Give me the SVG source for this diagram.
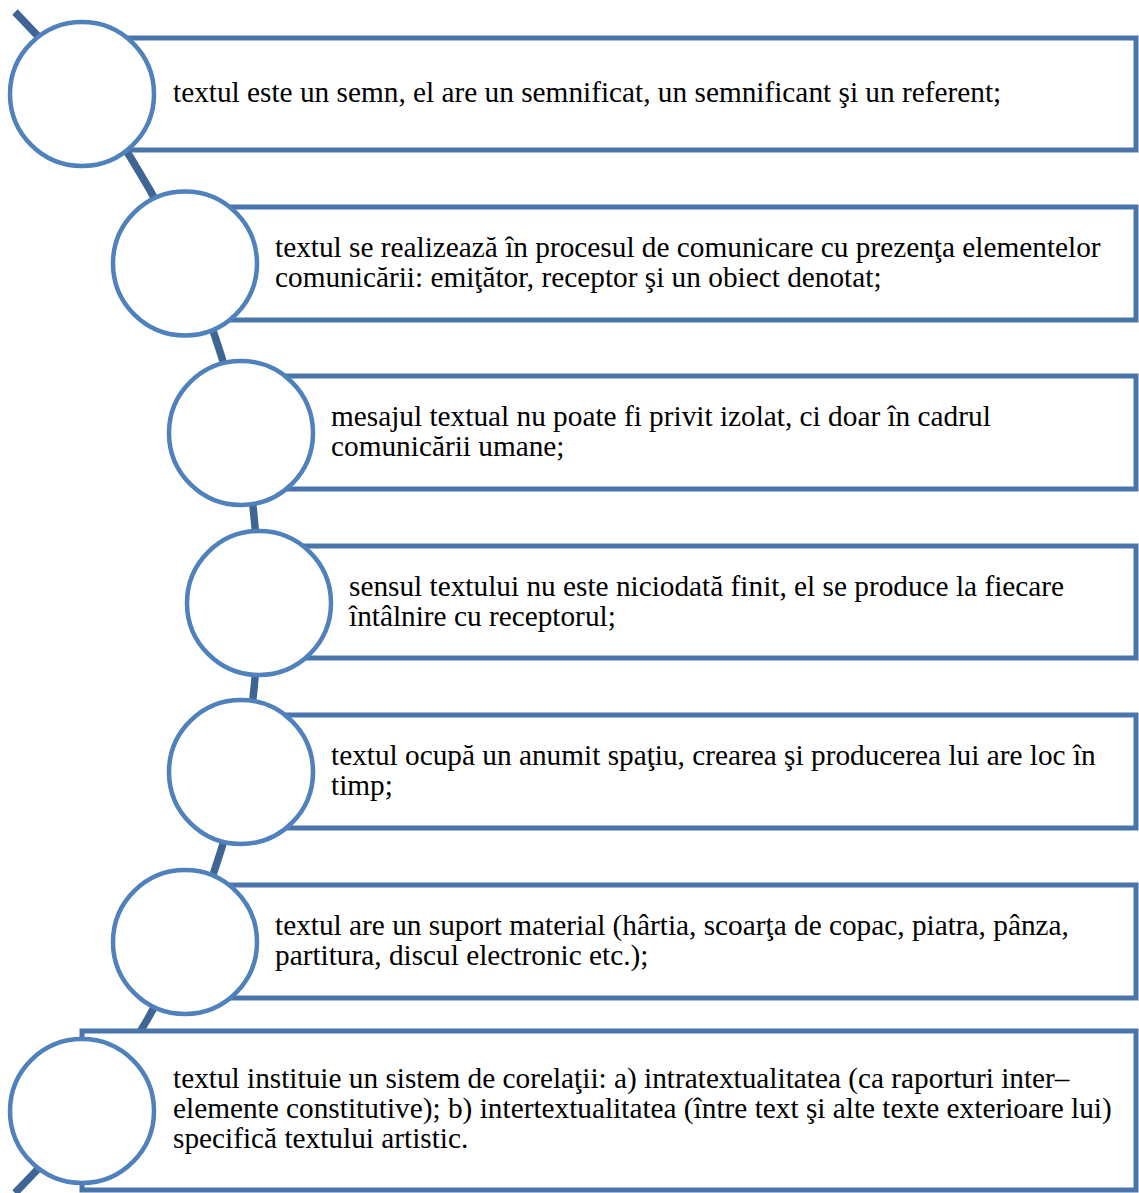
<svg xmlns="http://www.w3.org/2000/svg" width="1139" height="1193" viewBox="0 0 1139 1193">
<style>
.box{fill:#FFFFFF;stroke:#4A75AB;stroke-width:5}
.dot{fill:#FFFFFF;stroke:#4F81BD;stroke-width:4.5}
.conn{fill:none;stroke:#3F6595;stroke-width:7.5}
.t{font-family:'Liberation Serif','Times New Roman',serif;font-size:29.3px;fill:#000000}
</style>
<rect width="1139" height="1193" fill="#FFFFFF"/>
<g id="connectors">
<path class="conn" d="M 15 12 A 838 838 0 0 1 15 1193"/>
</g>
<g id="node1">
<rect class="box" x="82" y="38" width="1054" height="112"/>
<circle class="dot" cx="82" cy="94" r="72"/>
<text class="t" x="173" y="102">textul este un semn, el are un semnificat, un semnificant şi un referent;</text>
</g>
<g id="node2">
<rect class="box" x="185" y="207" width="951" height="113"/>
<circle class="dot" cx="185" cy="263.5" r="72"/>
<text class="t" x="275" y="256.7">textul se realizează în procesul de comunicare cu prezenţa elementelor</text>
<text class="t" x="275" y="286.7">comunicării: emiţător, receptor şi un obiect denotat;</text>
</g>
<g id="node3">
<rect class="box" x="241" y="376" width="895" height="113"/>
<circle class="dot" cx="241" cy="433" r="72"/>
<text class="t" x="331" y="426">mesajul textual nu poate fi privit izolat, ci doar în cadrul</text>
<text class="t" x="331" y="456">comunicării umane;</text>
</g>
<g id="node4">
<rect class="box" x="259" y="546" width="877" height="112"/>
<circle class="dot" cx="259" cy="603" r="72"/>
<text class="t" x="349" y="596">sensul textului nu este niciodată finit, el se produce la fiecare</text>
<text class="t" x="349" y="626">întâlnire cu receptorul;</text>
</g>
<g id="node5">
<rect class="box" x="241" y="715" width="895" height="113"/>
<circle class="dot" cx="241" cy="772" r="72"/>
<text class="t" x="331" y="765">textul ocupă un anumit spaţiu, crearea şi producerea lui are loc în</text>
<text class="t" x="331" y="795">timp;</text>
</g>
<g id="node6">
<rect class="box" x="185" y="885" width="951" height="113"/>
<circle class="dot" cx="185" cy="942" r="72"/>
<text class="t" x="275" y="935">textul are un suport material (hârtia, scoarţa de copac, piatra, pânza,</text>
<text class="t" x="275" y="965">partitura, discul electronic etc.);</text>
</g>
<g id="node7">
<rect class="box" x="82" y="1031" width="1054" height="159"/>
<circle class="dot" cx="82" cy="1111" r="72"/>
<text class="t" x="173" y="1088">textul instituie un sistem de corelaţii: a) intratextualitatea (ca raporturi inter–</text>
<text class="t" x="173" y="1118">elemente constitutive); b) intertextualitatea (între text şi alte texte exterioare lui)</text>
<text class="t" x="173" y="1148">specifică textului artistic.</text>
</g>
</svg>
